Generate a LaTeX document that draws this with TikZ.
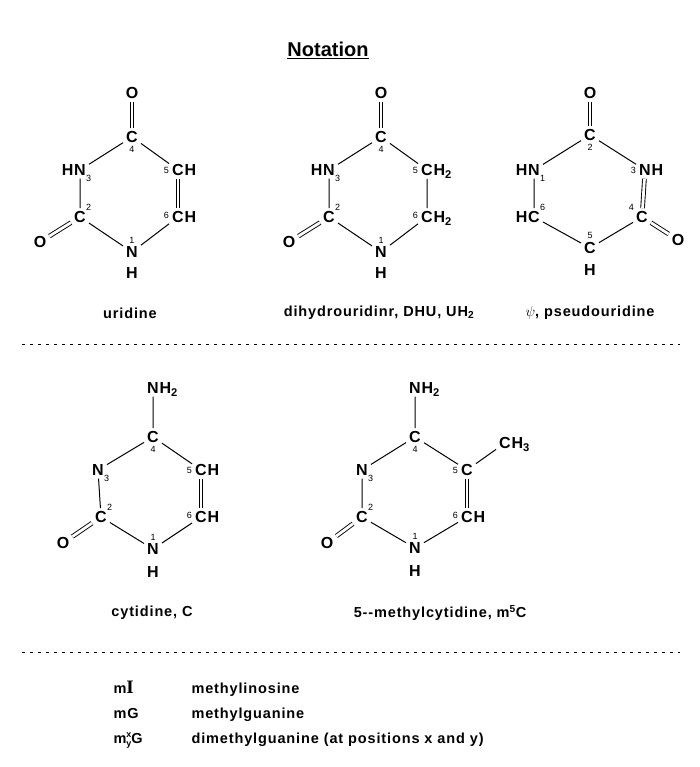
\documentclass[tikz,border=0pt]{standalone}
\usepackage{fontspec}
\setmainfont{Liberation Sans}
\newfontfamily\serifI{Liberation Serif}
\newfontfamily\capfont[LetterSpace=6]{Liberation Sans}
\usetikzlibrary{positioning}
\begin{document}
\begin{tikzpicture}[x=1pt, y=-1pt,
    atom/.style={font=\fontsize{16}{18}\selectfont\bfseries, inner sep=3pt},
    tail/.style={font=\fontsize{16}{18}\selectfont\bfseries, inner sep=0pt},
    num/.style={font=\fontsize{9}{10}\selectfont, inner sep=0pt},
    bond/.style={line width=1pt},
    dbond/.style={double, double distance=2.8pt, line width=0.9pt},
    caption/.style={font=\capfont\fontsize{14.5}{16}\selectfont\bfseries},
    sep/.style={dashed, dash pattern=on 3pt off 5pt, line width=1pt},
  ]
  \useasboundingbox (0,0) rectangle (700,767);

  % Title
  \node[font=\fontsize{20}{22}\selectfont\bfseries] (title) at (328,50) {\underline{Notation}};

  % Uridine
  \begin{scope}[shift={(132,137)}]
    \node[atom, label={[num]below:4}] (u4) at (0,0) {C};
    \node[atom] (uo4) at (0,-44) {O};
    \node[atom, label={[num, xshift=-3pt, yshift=4pt]south east:3}] (u3) at (-52,33) {N};
    \node[tail, anchor=base east] (u3h) at ([xshift=2.5pt]u3.base west) {H};
    \node[atom, label={[num]left:5}] (u5) at (46,33) {C};
    \node[tail, anchor=base west] (u5h) at ([xshift=-2.5pt]u5.base east) {H};
    \node[atom, label={[num, yshift=2pt]left:6}] (u6) at (46,80) {C};
    \node[tail, anchor=base west] (u6h) at ([xshift=-2.5pt]u6.base east) {H};
    \node[atom, label={[num, xshift=-3pt, yshift=-3pt]north east:2}] (u2) at (-52,80) {C};
    \node[atom] (uo2) at (-92,105) {O};
    \node[atom, label={[num]above:1}] (u1) at (0,115) {N};
    \node[atom] (u1h) at (0,136) {H};
    \draw[bond] (u4) -- (u3) (u4) -- (u5) (u3) -- (u2) (u2) -- (u1) (u1) -- (u6);
    \draw[dbond] (u4) -- (uo4);
    \draw[dbond] (u5) -- (u6);
    \draw[dbond] (u2) -- (uo2);
  \end{scope}
  \node[caption] (ucap) at (130,313) {uridine};

  % Dihydrouridine
  \begin{scope}[shift={(381,137)}]
    \node[atom, label={[num]below:4}] (d4) at (0,0) {C};
    \node[atom] (do4) at (0,-44) {O};
    \node[atom, label={[num, xshift=-3pt, yshift=4pt]south east:3}] (d3) at (-52,33) {N};
    \node[tail, anchor=base east] (d3h) at ([xshift=2.5pt]d3.base west) {H};
    \node[atom, label={[num]left:5}] (d5) at (46,33) {C};
    \node[tail, anchor=base west] (d5h) at ([xshift=-2.5pt]d5.base east) {H\textsubscript{2}};
    \node[atom, label={[num, yshift=2pt]left:6}] (d6) at (46,80) {C};
    \node[tail, anchor=base west] (d6h) at ([xshift=-2.5pt]d6.base east) {H\textsubscript{2}};
    \node[atom, label={[num, xshift=-3pt, yshift=-3pt]north east:2}] (d2) at (-52,80) {C};
    \node[atom] (do2) at (-92,105) {O};
    \node[atom, label={[num]above:1}] (d1) at (0,115) {N};
    \node[atom] (d1h) at (0,136) {H};
    \draw[bond] (d4) -- (d3) (d4) -- (d5) (d3) -- (d2) (d2) -- (d1) (d1) -- (d6) (d5) -- (d6);
    \draw[dbond] (d4) -- (do4);
    \draw[dbond] (d2) -- (do2);
  \end{scope}
  \node[caption] (dcap) at (379,313) {dihydrouridinr, DHU, UH\textsubscript{2}};

  % Pseudouridine
  \begin{scope}[shift={(590,135)}]
    \node[atom, label={[num]below:2}] (p2) at (0,0) {C};
    \node[atom] (po2) at (0,-42) {O};
    \node[atom, label={[num, xshift=-3pt, yshift=4pt]south east:1}] (p1) at (-56,35) {N};
    \node[tail, anchor=base east] (p1h) at ([xshift=2.5pt]p1.base west) {H};
    \node[atom, label={[num]left:3}] (p3) at (55,35) {N};
    \node[tail, anchor=base west] (p3h) at ([xshift=-2.5pt]p3.base east) {H};
    \node[atom, label={[num, xshift=-3pt, yshift=-3pt]north east:6}] (p6) at (-56,82) {C};
    \node[tail, anchor=base east] (p6h) at ([xshift=2.5pt]p6.base west) {H};
    \node[atom, label={[num, xshift=1pt, yshift=-3pt]north west:4}] (p4) at (52,82) {C};
    \node[atom] (po4) at (88,105) {O};
    \node[atom, label={[num]above:5}] (p5) at (0,113) {C};
    \node[atom] (p5h) at (0,135) {H};
    \draw[bond] (p2) -- (p1) (p2) -- (p3) (p1) -- (p6) (p6) -- (p5) (p5) -- (p4);
    \draw[dbond] (p2) -- (po2);
    \draw[dbond] (p3) -- (p4);
    \draw[dbond] (p4) -- (po4);
  \end{scope}
  \node[caption] (pcap) at (590,313) {$\psi$, pseudouridine};

  \draw[sep] (22,344) -- (680,344);

  % Cytidine
  \begin{scope}[shift={(153,437)}]
    \node[atom, label={[num]below:4}] (c4) at (0,0) {C};
    \node[atom] (cn4) at (0,-49) {N};
    \node[tail, anchor=base west] (cn4h) at ([xshift=-2.5pt]cn4.base east) {H\textsubscript{2}};
    \node[atom, label={[num, xshift=-3pt, yshift=4pt]south east:3}] (c3) at (-55,33) {N};
    \node[atom, label={[num]left:5}] (c5) at (48,33) {C};
    \node[tail, anchor=base west] (c5h) at ([xshift=-2.5pt]c5.base east) {H};
    \node[atom, label={[num, yshift=2pt]left:6}] (c6) at (48,80) {C};
    \node[tail, anchor=base west] (c6h) at ([xshift=-2.5pt]c6.base east) {H};
    \node[atom, label={[num, xshift=-3pt, yshift=-3pt]north east:2}] (c2) at (-52,80) {C};
    \node[atom] (co2) at (-90,106) {O};
    \node[atom, label={[num]above:1}] (c1) at (0,112) {N};
    \node[atom] (c1h) at (0,135) {H};
    \draw[bond] (c4) -- (cn4) (c4) -- (c3) (c4) -- (c5) (c3) -- (c2) (c2) -- (c1) (c1) -- (c6);
    \draw[dbond] (c5) -- (c6);
    \draw[dbond] (c2) -- (co2);
  \end{scope}
  \node[caption] (ccap) at (152,613) {cytidine, C};

  % 5-methylcytidine
  \begin{scope}[shift={(415,437)}]
    \node[atom, label={[num]below:4}] (m4) at (0,0) {C};
    \node[atom] (mn4) at (0,-49) {N};
    \node[tail, anchor=base west] (mn4h) at ([xshift=-2.5pt]mn4.base east) {H\textsubscript{2}};
    \node[atom, label={[num, xshift=-3pt, yshift=4pt]south east:3}] (m3) at (-53,33) {N};
    \node[atom, label={[num]left:5}] (m5) at (52,33) {C};
    \node[atom] (mc) at (90,6) {C};
    \node[tail, anchor=base west] (mch) at ([xshift=-2.5pt]mc.base east) {H\textsubscript{3}};
    \node[atom, label={[num, yshift=2pt]left:6}] (m6) at (52,80) {C};
    \node[tail, anchor=base west] (m6h) at ([xshift=-2.5pt]m6.base east) {H};
    \node[atom, label={[num, xshift=-3pt, yshift=-3pt]north east:2}] (m2) at (-53,80) {C};
    \node[atom] (mo2) at (-88,106) {O};
    \node[atom, label={[num]above:1}] (m1) at (0,111) {N};
    \node[atom] (m1h) at (0,134) {H};
    \draw[bond] (m4) -- (mn4) (m4) -- (m3) (m4) -- (m5) (m5) -- (mc) (m3) -- (m2) (m2) -- (m1) (m1) -- (m6);
    \draw[dbond] (m5) -- (m6);
    \draw[dbond] (m2) -- (mo2);
  \end{scope}
  \node[caption] (mcap) at (440,613) {5--methylcytidine, m\textsuperscript{5}C};

  \draw[sep] (22,652) -- (680,652);

  % Legend
  \node[caption, anchor=base west] (k1) at (110,693) {m{\serifI\fontsize{19}{20}\selectfont I}};
  \node[caption, anchor=base west] (d1t) at (188,693) {methylinosine};
  \node[caption, anchor=base west] (k2) at (110,718) {mG};
  \node[caption, anchor=base west] (d2t) at (188,718) {methylguanine};
  \node[caption, anchor=base west] (k3) at (110,743) {m\makebox[0pt][l]{\raisebox{6pt}{\fontsize{9}{9}\selectfont x}}\raisebox{-3pt}{\fontsize{9}{9}\selectfont y}G};
  \node[caption, anchor=base west] (d3t) at (188,743) {dimethylguanine (at positions x and y)};
\end{tikzpicture}
\end{document}
